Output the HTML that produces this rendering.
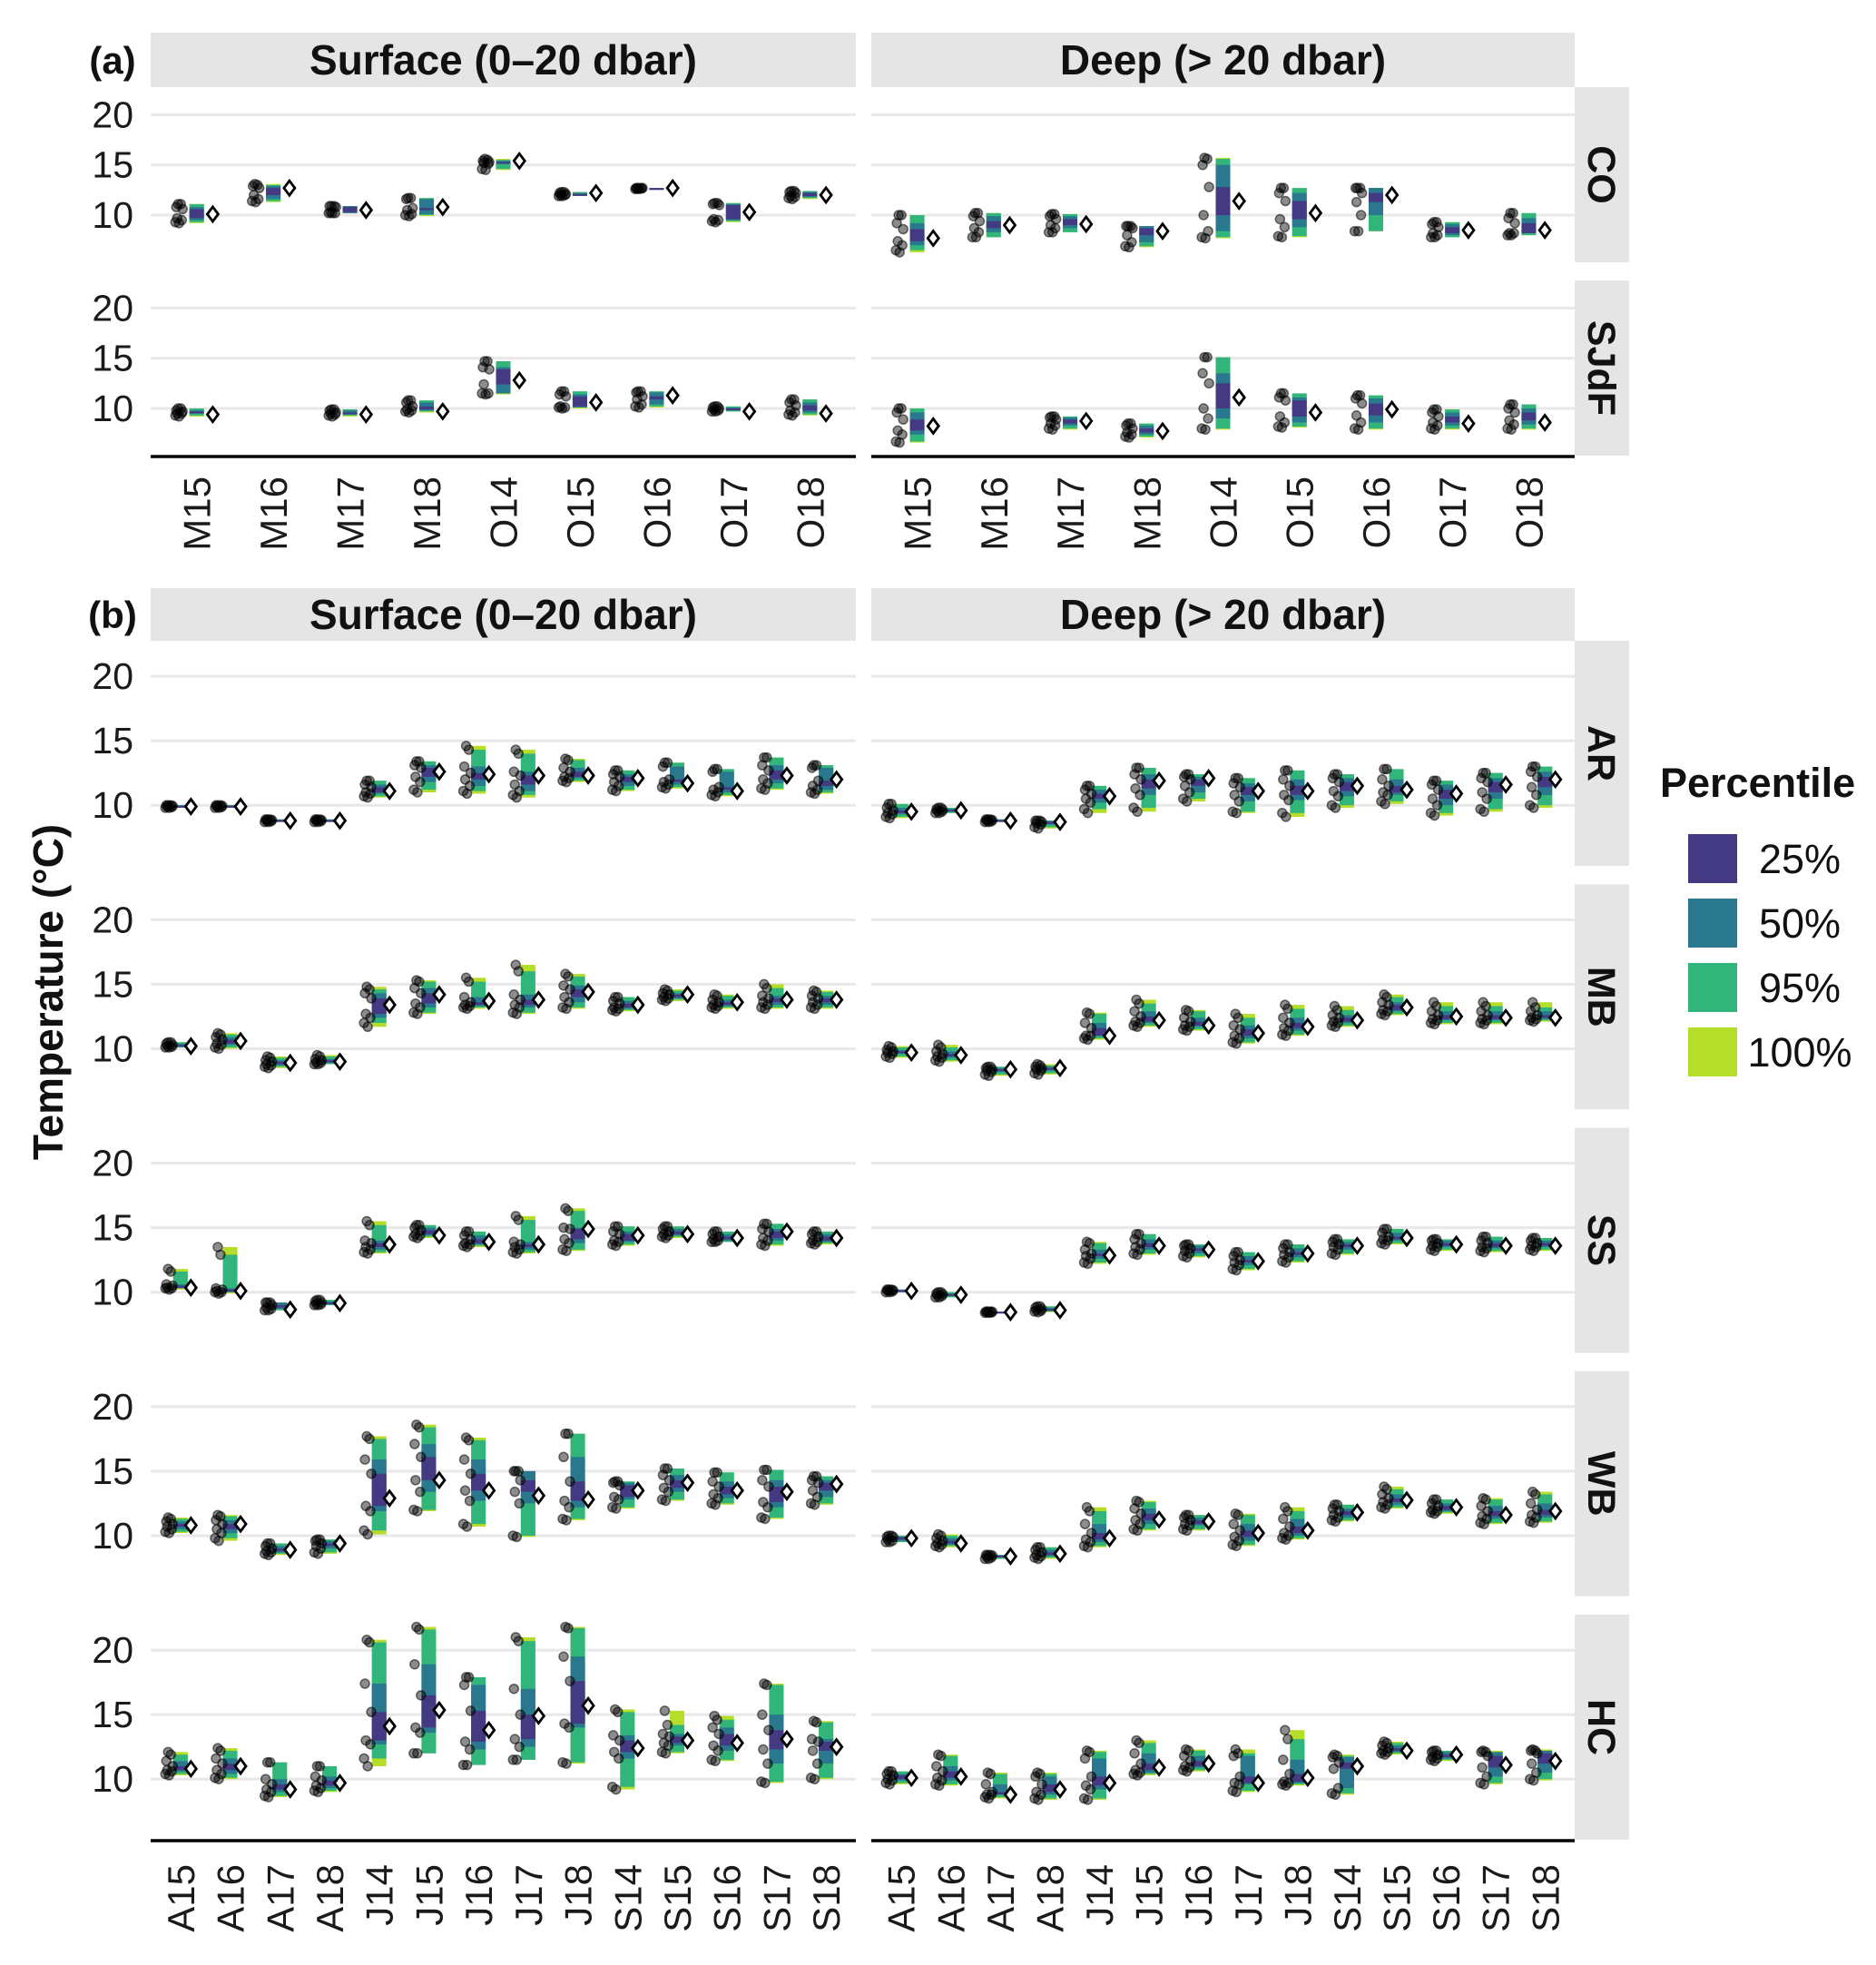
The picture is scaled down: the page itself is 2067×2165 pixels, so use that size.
<!DOCTYPE html>
<html><head><meta charset="utf-8"><title>Temperature percentiles</title>
<style>
html,body{margin:0;padding:0;background:#fff;}
svg{display:block;font-family:"Liberation Sans",Arial,sans-serif;}
</style></head>
<body>
<svg id="chart" xmlns="http://www.w3.org/2000/svg" width="2067" height="2165" viewBox="0 0 2067 2165"></svg>
<script>
// ---------- DATA ----------
// each group: [min, lo95, lo50, lo25, hi25, hi50, hi95, max, diamond]
const catsA = ["M15","M16","M17","M18","O14","O15","O16","O17","O18"];
const catsB = ["A15","A16","A17","A18","J14","J15","J16","J17","J18","S14","S15","S16","S17","S18"];
const rowsA = ["CO","SJdF"];
const rowsB = ["AR","MB","SS","WB","HC"];
const yTicks = [10,15,20];
const legendLabels = ["25%","50%","95%","100%"];

const surfCO = [[9.2,9.3,9.5,9.7,10.6,10.8,11.1,11.1,10.1],[11.3,11.4,11.6,12.0,12.7,12.9,13.0,13.1,12.7],[10.2,10.2,10.2,10.3,10.8,10.9,10.9,10.9,10.5],[9.9,10.0,10.1,10.5,10.7,11.6,11.7,11.7,10.8],[14.5,14.6,15.1,15.2,15.3,15.4,15.5,15.6,15.4],[11.9,11.9,12.0,12.0,12.1,12.2,12.3,12.3,12.2],[12.6,12.6,12.65,12.65,12.7,12.7,12.7,12.7,12.7],[9.3,9.4,9.5,9.6,11.0,11.1,11.2,11.2,10.3],[11.6,11.7,11.8,11.9,12.2,12.3,12.4,12.4,12.0]];
const surfSJdF = [[9.2,9.3,9.5,9.5,9.7,9.8,10.0,10.0,9.4],null,[9.2,9.3,9.4,9.5,9.6,9.8,9.9,9.9,9.4],[9.6,9.7,9.8,9.9,10.2,10.6,10.8,10.8,9.7],[11.4,11.5,11.5,12.4,13.9,14.1,14.7,14.7,12.8],[10.0,10.1,10.1,10.2,11.2,11.4,11.7,11.7,10.6],[10.1,10.2,10.4,10.9,11.2,11.6,11.7,11.7,11.3],[9.7,9.7,9.8,9.9,10.0,10.1,10.2,10.2,9.7],[9.3,9.4,9.6,9.8,10.3,10.6,10.9,10.9,9.5]];
const deepCO = [[6.3,6.5,7.0,7.4,8.6,9.2,10.0,10.0,7.7],[7.8,7.8,8.3,8.7,9.4,9.9,10.2,10.2,9.0],[8.3,8.3,8.7,9.0,9.6,9.9,10.1,10.1,9.1],[6.8,6.9,7.3,8.0,8.7,8.9,8.9,8.9,8.4],[7.7,7.8,8.4,10.0,12.8,15.0,15.6,15.7,11.4],[7.8,7.9,8.8,9.6,11.4,12.2,12.7,12.7,10.2],[8.4,8.4,10.0,11.3,12.2,12.7,12.7,12.7,12.0],[7.8,7.8,8.0,8.2,8.8,9.1,9.3,9.3,8.5],[8.0,8.0,8.2,8.2,9.2,9.7,10.2,10.2,8.5]];
const deepSJdF = [[6.6,6.7,7.4,7.8,8.9,9.6,10.0,10.0,8.25],null,[7.9,8.0,8.3,8.5,8.9,9.1,9.2,9.2,8.75],[7.1,7.2,7.4,7.6,8.0,8.3,8.5,8.5,7.75],[7.9,8.0,9.0,10.0,12.5,13.5,15.1,15.1,11.1],[8.1,8.2,8.6,9.2,10.8,11.1,11.5,11.5,9.6],[7.9,8.0,8.6,9.3,10.5,11.0,11.3,11.3,9.9],[7.9,8.0,8.3,8.6,9.2,9.6,9.9,9.9,8.5],[7.9,8.0,8.4,8.8,9.6,10.0,10.4,10.4,8.6]];

const surfAR = [[9.8,9.8,9.85,9.9,9.95,10.0,10.0,10.0,9.9],[9.8,9.8,9.85,9.9,9.95,10.0,10.0,10.0,9.9],[8.7,8.7,8.75,8.8,8.85,8.9,8.9,8.9,8.8],[8.7,8.7,8.75,8.8,8.85,8.9,8.9,8.9,8.8],[10.6,10.7,10.9,11.0,11.4,11.6,11.9,11.9,11.1],[11.0,11.2,11.8,12.2,12.9,13.1,13.4,13.4,12.6],[10.9,11.1,11.5,12.0,12.5,13.0,14.3,14.6,12.4],[10.6,10.8,11.1,11.6,12.3,12.6,14.0,14.3,12.3],[11.8,11.9,12.1,12.2,12.6,12.9,13.5,13.6,12.3],[11.1,11.2,11.5,11.8,12.2,12.4,12.7,12.7,12.1],[11.3,11.4,11.6,11.8,12.0,13.0,13.3,13.3,11.7],[10.7,10.8,11.0,11.2,11.4,12.6,12.8,12.8,11.1],[11.2,11.3,11.7,12.0,12.7,13.1,13.7,13.7,12.3],[10.9,11.0,11.2,11.5,11.9,12.9,13.1,13.1,12.0]];
const deepAR = [[9.0,9.1,9.3,9.4,9.6,9.8,10.1,10.1,9.5],[9.4,9.4,9.5,9.55,9.65,9.7,9.8,9.8,9.6],[8.7,8.7,8.75,8.8,8.85,8.9,8.9,8.9,8.8],[8.2,8.3,8.5,8.6,8.7,8.8,8.8,8.8,8.7],[9.4,9.7,10.2,10.5,10.9,11.2,11.5,11.5,10.7],[9.5,9.8,10.8,11.3,12.0,12.4,12.9,12.9,11.9],[10.3,10.5,11.0,11.5,12.0,12.2,12.4,12.4,12.1],[9.4,9.5,10.3,10.8,11.4,11.7,12.1,12.1,11.1],[9.1,9.4,10.4,10.8,11.5,12.0,12.7,12.7,11.1],[9.8,10.0,10.7,11.1,11.8,12.1,12.4,12.4,11.5],[10.1,10.3,10.8,11.0,11.5,12.0,12.8,12.8,11.2],[9.2,9.4,10.0,10.5,11.2,11.6,11.9,11.9,10.9],[9.5,9.7,10.5,11.0,11.8,12.1,12.5,12.5,11.6],[9.8,10.0,10.8,11.4,12.2,12.6,13.0,13.0,12.0]];
const surfMB = [[10.1,10.1,10.15,10.2,10.3,10.4,10.5,10.5,10.2],[10.0,10.1,10.3,10.4,10.7,10.9,11.1,11.2,10.6],[8.5,8.6,8.7,8.8,9.0,9.1,9.3,9.4,8.9],[8.8,8.8,8.9,8.95,9.1,9.2,9.4,9.5,9.0],[11.7,12.0,12.4,12.7,13.9,14.3,14.6,14.8,13.4],[12.7,12.8,13.2,13.5,14.3,14.7,15.2,15.3,14.2],[13.1,13.2,13.3,13.4,13.6,14.0,15.2,15.5,13.7],[12.7,12.8,13.2,13.4,13.8,14.2,16.0,16.5,13.8],[13.1,13.2,13.6,14.0,14.6,14.9,15.6,15.8,14.4],[12.9,13.0,13.1,13.2,13.5,13.7,14.0,14.0,13.4],[13.7,13.8,13.9,14.0,14.2,14.3,14.5,14.6,14.2],[13.1,13.2,13.3,13.4,13.6,13.8,14.1,14.2,13.6],[13.1,13.2,13.4,13.6,13.9,14.1,14.7,15.0,13.8],[13.1,13.2,13.4,13.6,13.9,14.1,14.4,14.5,13.8]];
const deepMB = [[9.3,9.4,9.6,9.7,9.8,9.9,10.1,10.2,9.7],[9.0,9.1,9.3,9.4,9.6,9.8,10.1,10.3,9.5],[7.9,8.0,8.2,8.3,8.4,8.5,8.6,8.6,8.4],[8.0,8.1,8.3,8.4,8.5,8.6,8.7,8.8,8.5],[10.7,10.8,11.0,11.0,11.6,12.0,12.7,12.8,11.0],[11.7,11.8,12.0,12.1,12.5,12.9,13.5,13.8,12.2],[11.4,11.5,11.7,11.8,12.1,12.4,12.9,13.0,11.8],[10.4,10.5,10.8,11.0,11.5,11.8,12.4,12.7,11.2],[11.0,11.1,11.4,11.6,12.0,12.4,13.1,13.4,11.7],[11.7,11.8,12.0,12.1,12.4,12.6,13.0,13.3,12.2],[12.6,12.7,12.9,13.0,13.4,13.6,14.0,14.2,13.2],[11.9,12.0,12.2,12.3,12.6,12.9,13.3,13.6,12.5],[11.9,12.0,12.2,12.3,12.6,12.9,13.3,13.6,12.4],[12.1,12.2,12.3,12.4,12.6,12.9,13.2,13.6,12.4]];
const surfSS = [[10.2,10.3,10.3,10.35,10.5,10.6,11.6,11.8,10.35],[9.9,10.0,10.0,10.1,10.2,10.3,12.9,13.5,10.1],[8.6,8.6,8.7,8.8,9.0,9.2,9.2,9.2,8.65],[9.0,9.0,9.05,9.1,9.2,9.3,9.4,9.4,9.15],[13.0,13.1,13.3,13.5,13.8,14.0,15.2,15.5,13.7],[14.2,14.3,14.4,14.5,14.8,15.0,15.2,15.2,14.4],[13.5,13.6,13.7,13.8,14.1,14.4,14.7,14.7,13.9],[13.0,13.1,13.3,13.5,13.7,13.9,15.6,15.9,13.7],[13.2,13.3,13.8,14.1,14.9,15.0,16.3,16.5,14.9],[13.6,13.7,13.9,14.0,14.5,14.7,15.1,15.1,14.4],[14.2,14.3,14.4,14.5,14.7,14.9,15.1,15.1,14.5],[13.9,13.9,14.0,14.1,14.3,14.5,14.7,14.7,14.2],[13.6,13.7,14.0,14.2,14.7,14.9,15.3,15.3,14.7],[13.7,13.8,13.9,14.0,14.3,14.5,14.7,14.7,14.2]];
const deepSS = [[10.0,10.0,10.05,10.1,10.15,10.2,10.2,10.2,10.1],[9.6,9.6,9.7,9.75,9.85,9.9,10.0,10.0,9.8],[8.4,8.4,8.42,8.45,8.48,8.5,8.5,8.5,8.45],[8.45,8.5,8.55,8.6,8.7,8.8,8.9,8.9,8.6],[12.2,12.3,12.6,12.8,13.0,13.3,13.8,13.9,12.85],[12.9,13.0,13.3,13.5,13.8,14.1,14.5,14.5,13.6],[12.7,12.8,13.0,13.2,13.4,13.6,13.7,13.7,13.3],[11.7,11.8,12.1,12.3,12.5,12.8,13.1,13.1,12.4],[12.3,12.4,12.7,12.9,13.1,13.4,13.7,13.7,13.0],[12.9,13.0,13.3,13.5,13.7,13.9,14.1,14.1,13.6],[13.7,13.8,14.0,14.1,14.3,14.6,14.9,14.9,14.2],[13.2,13.3,13.5,13.6,13.8,14.0,14.1,14.1,13.7],[13.1,13.2,13.4,13.5,13.8,14.0,14.3,14.3,13.6],[13.2,13.3,13.5,13.6,13.8,14.0,14.2,14.2,13.6]];
const surfWB = [[10.2,10.3,10.5,10.7,10.9,11.1,11.3,11.4,10.8],[9.6,9.8,10.2,10.5,10.9,11.2,11.5,11.6,10.9],[8.5,8.6,8.7,8.8,9.0,9.2,9.4,9.4,8.9],[8.6,8.7,9.0,9.2,9.4,9.6,9.7,9.7,9.4],[10.1,10.4,11.9,12.3,14.8,15.9,17.5,17.7,12.9],[11.9,12.0,13.4,14.3,16.1,17.1,18.4,18.6,14.3],[10.7,10.9,12.7,13.5,14.8,15.9,17.4,17.6,13.5],[9.9,10.0,12.5,13.4,14.3,15.0,15.0,15.0,13.1],[11.2,11.3,12.2,12.7,14.2,16.1,17.9,17.9,12.8],[12.1,12.2,12.8,13.0,13.9,14.1,14.2,14.2,13.5],[12.7,12.8,13.4,13.7,14.3,14.7,15.2,15.2,14.1],[12.4,12.5,12.9,13.2,13.8,14.2,14.9,14.9,13.5],[11.3,11.4,12.2,12.6,13.8,14.3,15.1,15.1,13.4],[12.4,12.5,13.0,13.5,14.1,14.3,14.6,14.6,14.0]];
const deepWB = [[9.5,9.5,9.6,9.7,9.9,9.9,10.0,10.0,9.8],[9.1,9.2,9.3,9.4,9.6,9.8,10.0,10.1,9.4],[8.2,8.2,8.3,8.35,8.45,8.5,8.5,8.5,8.4],[8.2,8.3,8.4,8.5,8.7,8.9,9.1,9.1,8.6],[9.1,9.2,9.5,9.7,10.2,10.9,11.9,12.2,9.8],[10.4,10.5,10.9,11.2,11.7,12.1,12.6,12.7,11.25],[10.4,10.5,10.8,10.9,11.2,11.4,11.6,11.6,11.1],[9.2,9.3,9.6,9.9,10.4,10.9,11.6,11.7,10.2],[9.7,9.8,10.0,10.2,10.7,11.3,11.9,12.2,10.4],[11.1,11.2,11.4,11.6,11.9,12.1,12.4,12.4,11.8],[12.1,12.2,12.4,12.6,12.9,13.2,13.6,13.8,12.75],[11.7,11.8,11.9,12.0,12.3,12.5,12.8,12.8,12.2],[10.9,11.0,11.3,11.5,11.9,12.3,12.8,12.9,11.6],[11.0,11.1,11.4,11.6,12.0,12.5,13.2,13.4,11.9]];
const surfHC = [[10.3,10.4,10.6,10.7,11.0,11.4,11.9,12.1,10.8],[10.0,10.1,10.4,10.7,11.2,11.6,12.2,12.4,11.0],[8.6,8.7,9.0,9.2,9.6,10.0,11.3,11.3,9.2],[9.0,9.1,9.3,9.5,9.9,10.2,11.0,11.0,9.7],[11.0,11.6,12.7,13.0,15.2,17.4,20.6,20.8,14.1],[12.0,12.0,13.6,14.0,16.5,18.9,21.6,21.8,15.35],[11.1,11.1,12.3,12.9,15.3,17.3,17.9,17.9,13.8],[11.5,11.5,12.5,13.1,15.0,17.0,20.7,21.0,14.9],[11.2,11.3,14.0,14.3,17.6,19.5,21.7,21.8,15.7],[9.2,9.4,11.6,12.1,13.0,13.4,15.2,15.4,12.4],[12.0,12.1,12.6,12.8,13.3,13.5,14.2,15.3,13.0],[11.4,11.5,12.2,12.6,13.5,14.0,14.6,14.9,12.8],[9.7,9.8,11.2,12.3,13.8,15.0,17.3,17.4,13.1],[10.0,10.1,11.2,12.2,12.9,13.1,14.4,14.5,12.5]];
const deepHC = [[9.6,9.7,9.9,10.0,10.3,10.4,10.6,10.6,10.1],[9.5,9.6,9.9,10.1,10.6,11.0,11.8,11.9,10.2],[8.5,8.6,8.8,8.8,9.0,9.6,10.4,10.5,8.8],[8.4,8.5,8.8,9.0,9.6,10.2,10.4,10.5,9.2],[8.4,8.5,9.2,9.5,10.2,11.6,12.1,12.2,9.7],[10.3,10.4,10.5,10.7,11.2,12.0,12.8,13.0,10.9],[10.6,10.7,10.9,11.0,11.4,11.8,12.2,12.3,11.2],[9.0,9.1,9.6,9.7,10.2,11.8,12.0,12.3,9.7],[9.5,9.6,9.7,9.8,10.4,11.5,13.1,13.8,10.1],[8.8,8.9,9.3,10.8,11.3,11.7,11.8,11.9,11.0],[11.9,12.0,12.1,12.2,12.4,12.6,12.8,12.9,12.2],[11.4,11.5,11.6,11.7,11.9,12.1,12.2,12.2,11.9],[9.6,9.7,10.2,10.9,11.8,12.1,12.1,12.2,11.1],[9.9,10.0,10.5,11.2,12.0,12.2,12.2,12.3,11.4]];

// ---------- RENDER ----------
const NS = "http://www.w3.org/2000/svg";
const svg = document.getElementById("chart");
const COLORS = {p25:"#443a83", p50:"#2a788e", p95:"#31b57b", p100:"#b5de2b", strip:"#e5e5e5", grid:"#e8e8e8"};
function el(tag, attrs, parent){const e=document.createElementNS(NS,tag);for(const k in attrs)e.setAttribute(k,attrs[k]);(parent||svg).appendChild(e);return e;}
function txt(s, attrs, parent){const t=el("text",attrs,parent);t.textContent=s;return t;}

const COLX = [[166,943],[960,1735]];
const STRIP_R = [1735,1795];
const DOM = [5.3,22.75];

function drawPanel(cats, data, x0, x1, top, h, isSurface, rowName, colName){
  const g = el("g",{});
  
  
  const y = v => top + h - (v - DOM[0]) / (DOM[1]-DOM[0]) * h;
  const u = (x1-x0)/(cats.length-1+1.2);
  const xc = i => x0 + (0.6+i)*u;
  yTicks.forEach(t=>{
    const gl = el("line",{x1:x0,x2:x1,y1:y(t),y2:y(t),stroke:COLORS.grid,"stroke-width":3},g);
    
    
  });
  data.forEach((d,i)=>{
    if(!d) return;
    const cx = xc(i), bw = 16;
    const bg = el("g",{},g);
    
    
    const bands=[[d[0],d[7],COLORS.p100],[d[1],d[6],COLORS.p95],[d[2],d[5],COLORS.p50],[d[3],d[4],COLORS.p25]];
    bands.forEach(b=>{
      const yt=y(b[1]), yb=y(b[0]);
      el("rect",{x:cx-bw/2,y:yt,width:bw,height:Math.max(yb-yt,2),fill:b[2]},bg);
    });
    const dotX = cx - 0.23*u;
    const jit=[0,-4,3,-2,4,-3,2,-1];
    for(let k=0;k<8;k++){
      const c = el("circle",{cx:dotX+jit[k],cy:y(d[k]),r:5,fill:"rgba(0,0,0,0.45)",stroke:"rgba(0,0,0,0.55)","stroke-width":1.5},g);
      
      
    }
    const dx = cx + 0.21*u, dy = y(d[8]);
    const dm = el("polygon",{points:`${dx},${dy-8} ${dx+6},${dy} ${dx},${dy+8} ${dx-6},${dy}`,fill:"#fff",stroke:"#000","stroke-width":2.8},g);
    
    
  });
  if(isSurface){
    yTicks.forEach(t=>{
      const lb = txt(String(t),{x:147,y:y(t)+14,"font-size":41,"text-anchor":"end",fill:"#1a1a1a"});
      
      
    });
  }
  return {xc};
}

function drawSection(cats, rows, dataSets, stripTop, rowTop, rowH, rowStep, labelTop, tag){
  const colNames=["Surface (0–20 dbar)","Deep (> 20 dbar)"];
  COLX.forEach((c,ci)=>{
    const s = el("rect",{x:c[0],y:stripTop,width:c[1]-c[0],height:rowTop-stripTop,fill:COLORS.strip});
    
    
    const t = txt(colNames[ci],{x:(c[0]+c[1])/2,y:stripTop+(rowTop-stripTop)/2+16,"font-size":46,"font-weight":"bold","text-anchor":"middle",fill:"#111"});
    
    
  });
  let xcs=[];
  rows.forEach((r,ri)=>{
    const top = rowTop + ri*rowStep;
    COLX.forEach((c,ci)=>{
      const res = drawPanel(cats, dataSets[ci][ri], c[0], c[1], top, rowH, ci===0, r, ci===0?'surface':'deep');
      xcs[ci]=res.xc;
    });
    const rs = el("rect",{x:STRIP_R[0],y:top,width:STRIP_R[1]-STRIP_R[0],height:rowH,fill:COLORS.strip});
    
    
    const cx=(STRIP_R[0]+STRIP_R[1])/2, cy=top+rowH/2;
    const rt = txt(r,{x:cx,y:cy,"font-size":43,"font-weight":"bold","text-anchor":"middle",transform:`rotate(90 ${cx} ${cy}) translate(0 15)`,fill:"#111"});
    
    
  });
  const axisY = rowTop + (rows.length-1)*rowStep + rowH + 1;
  COLX.forEach((c,ci)=>{
    const ax = el("line",{x1:c[0],x2:c[1],y1:axisY,y2:axisY,stroke:"#000","stroke-width":3.5});
    
    
    cats.forEach((cat,i)=>{
      const x = xcs[ci](i)+15;
      const t = txt(cat,{x:x,y:labelTop,"font-size":42,"text-anchor":"end",transform:`rotate(-90 ${x} ${labelTop})`,fill:"#1a1a1a"});
      
      
    });
  });
  const lt = txt(tag,{x:124,y:stripTop+(rowTop-stripTop)/2+15,"font-size":42,"font-weight":"bold","text-anchor":"middle",fill:"#111"});
  
  
}

drawSection(catsA, rowsA, [[surfCO,surfSJdF],[deepCO,deepSJdF]], 36, 96, 193, 213, 525, "(a)");
drawSection(catsB, rowsB, [[surfAR,surfMB,surfSS,surfWB,surfHC],[deepAR,deepMB,deepSS,deepWB,deepHC]], 648, 706, 248, 268.25, 2054, "(b)");

// y axis title
const yt = txt("Temperature (°C)",{x:53,y:1093,"font-size":46,"font-weight":"bold","text-anchor":"middle",transform:"rotate(-90 53 1093) translate(0 16)",fill:"#111"});



// legend
const lg = el("g",{});


const ltitle = txt("Percentile",{x:1829,y:878,"font-size":45,"font-weight":"bold",fill:"#111"},lg);


const legCols=[COLORS.p25,COLORS.p50,COLORS.p95,COLORS.p100];
legendLabels.forEach((l,i)=>{
  const y0 = 919 + i*71;
  const r = el("rect",{x:1860,y:y0,width:54,height:54,fill:legCols[i]},lg);
  
  
  const t = txt(l,{x:1983,y:y0+43,"font-size":45,"text-anchor":"middle",fill:"#111"},lg);
  
  
});
</script>
</body></html>
